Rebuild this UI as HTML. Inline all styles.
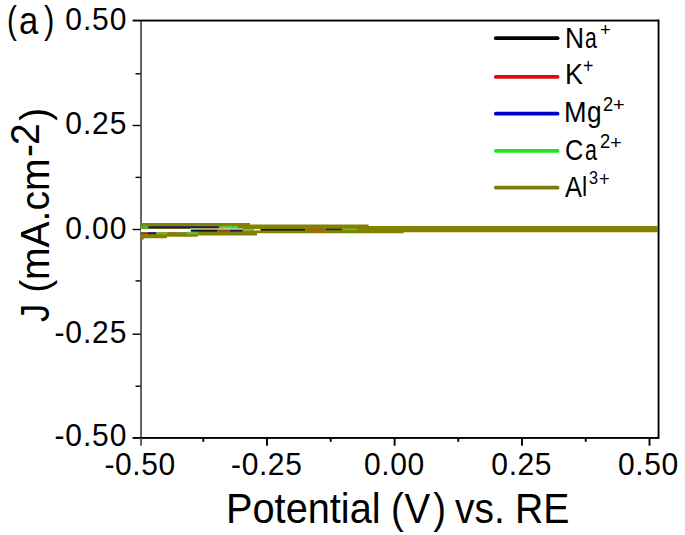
<!DOCTYPE html>
<html><head><meta charset="utf-8">
<style>
html,body{margin:0;padding:0;background:#fff;}
body{width:685px;height:535px;overflow:hidden;position:relative;font-family:"Liberation Sans",sans-serif;color:#000;}
.t{position:absolute;white-space:nowrap;line-height:1;}
.yl{font-size:30px;letter-spacing:0.9px;text-align:right;width:100px;left:27.3px;transform-origin:50% 15.25px;transform:scaleY(1.06);}
.xl{font-size:30px;letter-spacing:0.6px;width:120px;text-align:center;transform-origin:50% 5px;transform:scaleY(1.06);}
.lg{font-size:28px;transform-origin:0 4.46px;}
.sp{font-size:19px;transform-origin:0 0;}
.pa{top:0.24px;font-size:39px;transform-origin:0 33.01px;}
.xt{top:487.95px;font-size:40.5px;transform-origin:0 20.4px;}
.yt{left:0;top:0;font-size:40.5px;transform-origin:0 0;}
svg{position:absolute;left:0;top:0;}
</style></head><body>
<svg width="685" height="535" viewBox="0 0 685 535">
  <!-- frame -->
  <rect x="140.1" y="20" width="1.9" height="418.5" fill="#5a5a5a"/>
  <rect x="132.6" y="19.6" width="526.1" height="1.9" fill="#000"/>
  <rect x="132.6" y="437" width="526.1" height="1.9" fill="#000"/>
  <rect x="657.6" y="19.6" width="1.9" height="419.3" fill="#000"/>
  <!-- y ticks -->
  <g fill="#000">
    <rect x="132.6" y="124.8" width="7.8" height="1.4"/>
    <rect x="132.6" y="228.8" width="7.8" height="1.4"/>
    <rect x="132.6" y="333.45" width="7.8" height="1.4"/>
    <rect x="135.5" y="73.1" width="5" height="1.4"/>
    <rect x="135.5" y="176.7" width="5" height="1.4"/>
    <rect x="135.5" y="280.2" width="5" height="1.4"/>
    <rect x="135.5" y="385.5" width="5" height="1.4"/>
  </g>
  <!-- data band -->
  <g>
    <polygon fill="#828200" points="140.9,223 250,223 250,224.5 368.6,224.5 368.6,226.1 658,226.1 658,232.2 403.7,232.2 403.7,233.3 257,233.3 257,235.4 197.7,235.4 197.7,236.8 166.8,236.8 166.8,238.2 140.9,238.2"/>
    <rect x="140.9" y="237" width="2.6" height="2.8" fill="#828200"/>
    <!-- upper line -->
    <rect x="140.9" y="225.6" width="7.2" height="3.2" fill="#3cbc2c"/>
    <rect x="148.5" y="226.3" width="70.1" height="2" fill="#15156e"/>
    <rect x="219.5" y="225.9" width="18.4" height="2.6" fill="#50d040"/>
    <!-- white gap -->
    <rect x="141" y="229" width="49.6" height="3.2" fill="#fff"/>
    <rect x="190" y="228.5" width="52.7" height="1" fill="#f4f8e8"/>
    <!-- middle line -->
    <rect x="191.1" y="229.8" width="26.2" height="1.8" fill="#111"/>
    <rect x="218.2" y="229.8" width="10.1" height="1.8" fill="#b03a10"/>
    <rect x="229.6" y="229.8" width="12.7" height="1.8" fill="#15156e"/>
    <rect x="243.2" y="229" width="10.8" height="1.6" fill="#58d848"/>
    <rect x="254" y="229" width="6.7" height="1.4" fill="#fafaf0"/>
    <rect x="260.7" y="229" width="44.3" height="1.5" fill="#111"/>
    <rect x="307" y="228.9" width="18" height="1.7" fill="#d04a10"/>
    <rect x="326" y="228.7" width="15.7" height="1.5" fill="#202070"/>
    <rect x="343" y="228.6" width="14" height="1.6" fill="#50d040"/>
    <!-- lower stripe -->
    <rect x="140.9" y="232.2" width="6.8" height="2" fill="#a83818"/>
    <rect x="148" y="232.2" width="8" height="2" fill="#1c1c6a"/>
    <rect x="157" y="232.6" width="10" height="1.6" fill="#5cc040"/>
    <rect x="168" y="232.2" width="9" height="1.8" fill="#c05818"/>
    <rect x="178" y="232.4" width="8" height="1.6" fill="#707898"/>
    <rect x="187" y="231.8" width="11" height="2.6" fill="#58c040"/>
  </g>
  <!-- x ticks -->
  <g fill="#000">
    <rect x="140.1" y="438" width="1.9" height="7.7" fill="#5a5a5a"/>
    <rect x="266.05" y="438" width="1.9" height="7.7"/>
    <rect x="393.65" y="438" width="1.9" height="7.7"/>
    <rect x="521.05" y="438" width="1.9" height="7.7"/>
    <rect x="648.55" y="438" width="1.9" height="7.7"/>
    <rect x="202.35" y="438" width="1.9" height="3.8"/>
    <rect x="329.75" y="438" width="1.9" height="3.8"/>
    <rect x="457.3" y="438" width="1.9" height="3.8"/>
    <rect x="584.75" y="438" width="1.9" height="3.8"/>
  </g>
  <!-- legend lines -->
  <g stroke-width="3.8" stroke-linecap="round">
    <line x1="495.8" y1="38.2" x2="557.6" y2="38.2" stroke="#000"/>
    <line x1="495.8" y1="76.9" x2="557.6" y2="76.9" stroke="#e00a0a"/>
    <line x1="495.8" y1="113.7" x2="557.6" y2="113.7" stroke="#0000c8"/>
    <line x1="495.8" y1="150.8" x2="557.6" y2="150.8" stroke="#1ee61e"/>
    <line x1="495.8" y1="187.7" x2="557.6" y2="187.7" stroke="#7b7b10"/>
  </g>
</svg>

<!-- (a) -->
<div class="t pa" style="left:6.99px;transform-origin:0 4.75px;transform:scale(0.76,1.005);">(</div>
<div class="t pa" style="left:19.14px;top:0.69px;transform-origin:0 12px;transform:scale(0.89,1.0);">a</div>
<div class="t pa" style="left:43.65px;transform-origin:0 4.75px;transform:scale(0.8,1.005);">)</div>

<!-- y tick labels -->
<div class="t yl" style="top:4.25px;">0.50</div>
<div class="t yl" style="top:108.05px;">0.25</div>
<div class="t yl" style="top:213.05px;">0.00</div>
<div class="t yl" style="top:316.65px;">-0.25</div>
<div class="t yl" style="top:420.35px;">-0.50</div>

<!-- x tick labels -->
<div class="t xl" style="left:80.15px;top:448.95px;">-0.50</div>
<div class="t xl" style="left:206.75px;top:448.95px;">-0.25</div>
<div class="t xl" style="left:334.45px;top:448.95px;">0.00</div>
<div class="t xl" style="left:461.75px;top:448.95px;">0.25</div>
<div class="t xl" style="left:588.35px;top:448.95px;">0.50</div>

<!-- x title -->
<div class="t xt" style="left:225.86px;transform:scale(0.981,1.04);">Potential</div>
<div class="t xt" style="left:390.9px;transform:scale(0.95,1.04);">(<span style="margin-left:0.74px">V</span><span style="margin-left:3.26px">)</span></div>
<div class="t xt" style="left:455.3px;transform:scale(0.962,1.04);">vs.</div>
<div class="t xt" style="left:514.8px;transform:scale(0.969,1.04);">RE</div>

<!-- y title -->
<div class="t yt" style="transform:translate(14.6px,322.1px) rotate(-90deg) scaleX(0.9);">J</div>
<div class="t yt" style="transform:translate(14.6px,292.87px) rotate(-90deg) scaleX(0.963);">(mA.cm</div>
<div class="t yt" style="transform:translate(6.9px,157.05px) rotate(-90deg) scaleX(0.963);">-</div>
<div class="t yt" style="transform:translate(5.1px,144.96px) rotate(-90deg) scaleX(0.963);">2</div>
<div class="t yt" style="transform:translate(14.6px,120.77px) rotate(-90deg) scaleX(0.963);">)</div>

<!-- legend text -->
<div class="t lg" style="left:564.73px;top:24.35px;transform:scale(0.942,1.07);">N</div>
<div class="t lg" style="left:584.69px;top:24.35px;transform:scale(0.757,1.07);">a</div>
<div class="t lg" style="left:564.99px;top:60.40px;transform:scale(0.963,1.07);">K</div>
<div class="t lg" style="left:563.77px;top:97.80px;transform:scale(0.968,1.07);">M</div>
<div class="t lg" style="left:587.38px;top:97.80px;transform:scale(0.937,1.07);">g</div>
<div class="t lg" style="left:565.03px;top:135.80px;transform:scale(0.904,1.07);">C</div>
<div class="t lg" style="left:584.68px;top:135.80px;transform:scale(0.764,1.07);">a</div>
<div class="t lg" style="left:565.11px;top:172.50px;transform:scale(0.908,1.07);">A</div>
<div class="t lg" style="left:582.22px;top:172.50px;transform-origin:0 23.7px;transform:scale(0.833,1.017);">l</div>
<div class="t sp" style="left:600.03px;top:19.72px;transform:scale(0.968,0.978);">+</div>
<div class="t sp" style="left:582.56px;top:56.09px;transform:scale(0.935,1.065);">+</div>
<div class="t sp" style="left:602.53px;top:94.29px;transform:scale(0.965,1.045);">2</div>
<div class="t sp" style="left:613.05px;top:95.06px;transform:scale(1.054,1.011);">+</div>
<div class="t sp" style="left:599.53px;top:131.17px;transform:scale(0.965,1.053);">2</div>
<div class="t sp" style="left:610.05px;top:132.52px;transform:scale(1.054,0.978);">+</div>
<div class="t sp" style="left:588.70px;top:168.42px;transform:scale(0.856,1.000);">3</div>
<div class="t sp" style="left:598.64px;top:168.65px;transform:scale(0.957,1.032);">+</div>
</body></html>
